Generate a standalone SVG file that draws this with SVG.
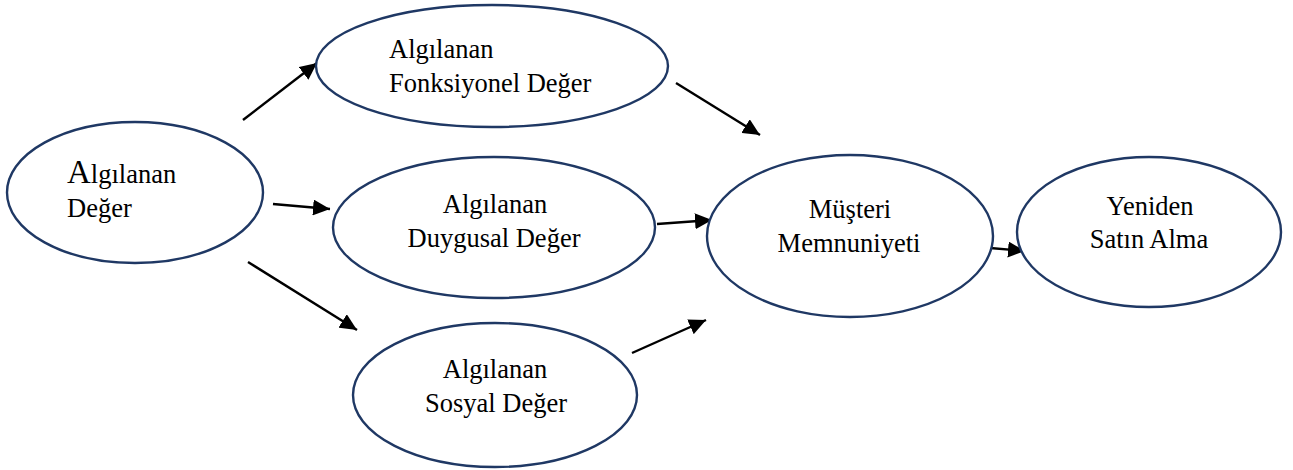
<svg xmlns="http://www.w3.org/2000/svg" width="1293" height="470" viewBox="0 0 1293 470">
<style>
.n{fill:#fff;stroke:#1f3864;stroke-width:2.4}
.t{font-family:"Liberation Serif","Times New Roman",serif;font-size:26.5px;fill:#000}
.c{text-anchor:middle}
.e{stroke:#000;stroke-width:2.4;fill:none;marker-end:url(#ah)}
</style>
<defs>
<marker id="ah" markerUnits="userSpaceOnUse" markerWidth="18" markerHeight="16" refX="17" refY="8" orient="auto">
<path d="M0,0 L17,8 L0,16 Z" fill="#000"/>
</marker>
</defs>
<rect width="1293" height="470" fill="#fff"/>
<g id="connectors">
<line class="e" x1="243" y1="120" x2="317" y2="63"/>
<line class="e" x1="676" y1="83" x2="760" y2="135"/>
<line class="e" x1="273" y1="204" x2="330" y2="209"/>
<line class="e" x1="248" y1="262" x2="357" y2="330"/>
<line class="e" x1="657" y1="224" x2="712" y2="220"/>
<line class="e" x1="632" y1="353" x2="706" y2="320"/>
<line class="e" x1="990" y1="248" x2="1025" y2="251"/>
</g>
<g id="node-deger">
<ellipse class="n" cx="135" cy="192.5" rx="128" ry="70.5"/>
<text class="t" x="67" y="183"><tspan font-size="33">A</tspan>lgılanan</text>
<text class="t" x="67" y="217">Değer</text>
</g>
<g id="node-fonksiyonel">
<ellipse class="n" cx="492" cy="66" rx="176" ry="61"/>
<text class="t" x="389" y="58">Algılanan</text>
<text class="t" x="389" y="92">Fonksiyonel Değer</text>
</g>
<g id="node-duygusal">
<ellipse class="n" cx="494" cy="227.5" rx="161" ry="70.5"/>
<text class="t c" x="495" y="213">Algılanan</text>
<text class="t c" x="494" y="247">Duygusal Değer</text>
</g>
<g id="node-sosyal">
<ellipse class="n" cx="495" cy="395" rx="142" ry="72"/>
<text class="t c" x="495" y="378">Algılanan</text>
<text class="t c" x="496" y="412">Sosyal Değer</text>
</g>
<g id="node-memnuniyet">
<ellipse class="n" cx="850" cy="236" rx="143" ry="81"/>
<text class="t c" x="850" y="218">Müşteri</text>
<text class="t c" x="849" y="252">Memnuniyeti</text>
</g>
<g id="node-yeniden">
<ellipse class="n" cx="1149" cy="232" rx="132" ry="75"/>
<text class="t c" x="1150" y="215">Yeniden</text>
<text class="t c" x="1149" y="248">Satın Alma</text>
</g>
</svg>
